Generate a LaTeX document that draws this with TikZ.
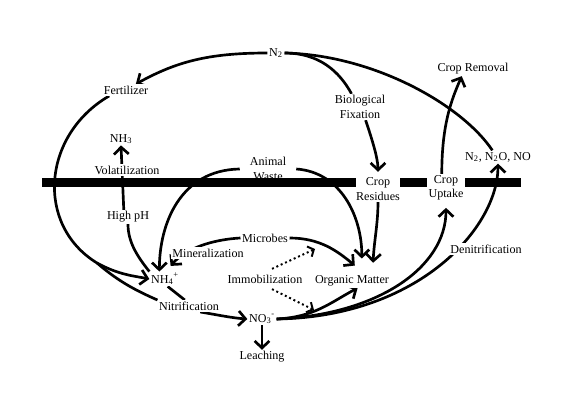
\documentclass[tikz,border=0pt]{standalone}
\usepackage{fontspec}
\setmainfont{Liberation Serif}
\usetikzlibrary{arrows.meta}
\pgfdeclarelayer{background}
\pgfsetlayers{background,main}

\begin{document}
\begin{tikzpicture}[x=0.025cm, y=-0.025cm,
  lbl/.style={fill=white, inner sep=1pt, align=center, font=\fontsize{8.6}{10.3}\selectfont},
  con/.style={line width=1.9pt},
  arr/.style={con, -{Straight Barb[length=5pt,width=10.5pt]}},
  immo/.style={line width=1.4pt, dotted, -{Straight Barb[length=3.5pt,width=8pt]}},
  soil/.style={line width=6.4pt}]
\useasboundingbox (0,0) rectangle (567,405);

% pools and processes
\node[lbl] (n2) at (276,53) {N\textsubscript{2}};
\node[lbl] (fert) at (126,90) {Fertilizer};
\node[lbl] (nh3) at (121,139) {NH\textsubscript{3}};
\node[lbl] (volat) at (127,170) {Volatilization};
\node[lbl, inner xsep=7pt] (animal) at (268,169) {Animal\\Waste};
\node[lbl] (biofix) at (360,107) {Biological\\Fixation};
\node[lbl] (removal) at (473,69) {Crop Removal};
\node[lbl] (gas) at (498,157) {N\textsubscript{2}, N\textsubscript{2}O, NO};
\node[lbl, inner xsep=0pt] (resid) at (378,189) {Crop\\Residues};
\node[lbl] (uptake) at (446,188) {Crop\\Uptake};
\node[lbl] (highph) at (128,217) {High pH};
\node[lbl] (microbes) at (265,238) {Microbes};
\node[lbl] (mineral) at (208,253) {Mineralization};
\node[lbl] (nh4) at (165,279) {NH\textsubscript{4}\textsuperscript{+}};
\node[lbl] (immob) at (265,279) {Immobilization};
\node[lbl] (om) at (352,281) {Organic Matter};
\node[lbl] (denit) at (486,249) {Denitrification};
\node[lbl] (nitr) at (189,306) {Nitrification};
\node[lbl] (no3) at (262,319) {NO\textsubscript{3}\textsuperscript{-}};
\node[lbl] (leach) at (262,357) {Leaching};

\coordinate (soilL) at (42,182.5);
\coordinate (soilR) at (521,182.5);
\coordinate (fork) at (97,263);
\coordinate (immup) at (315,249);
\coordinate (immdn) at (314,310);

% flows
\begin{pgfonlayer}{background}
\draw[arr] (n2.west) .. controls +(-60,0) and +(40,-22) .. ([xshift=7pt]fert.north);
\draw[con] ([xshift=5pt]fert.south west) .. controls +(-67,39) and +(-62,-38) .. (fork)
  .. controls +(23,20) and +(-18,-8) .. (nitr.north west);
\draw[arr] (fork) .. controls +(22,12) and +(-15,-3) .. (nh4.west);
\draw[con] (nh4.north west) .. controls +(-12,-15) and +(0,18) .. (highph.south);
\draw[arr] ([xshift=-3pt]highph.north) -- (nh3.south);
\draw[arr] (animal.west) .. controls +(-60,1) and +(0,-47) .. ([xshift=-4pt]nh4.north);
\draw[arr] (animal.east) .. controls +(44,3) and +(0,-43) .. ([xshift=7pt,yshift=11pt]om.north);
\draw[con] (n2.east) .. controls +(35,0) and +(-12,-22) .. ([xshift=-6pt]biofix.north);
\draw[arr, shorten >=3pt] ([xshift=4pt]biofix.south) .. controls +(6,18) and +(0,-18) .. (resid.north);
\draw[arr] (resid.south) .. controls +(0,22) and +(1,-22) .. ([xshift=15pt,yshift=8pt]om.north);
\draw[arr] (microbes.east) .. controls +(30,0) and +(-18,-15) .. ([xshift=2pt,yshift=6pt]om.north);
\draw[arr] (microbes.west) .. controls +(-35,2) and +(12,-14) .. ([xshift=4pt,yshift=4pt]nh4.north);
\draw[con] (nh4.-70) -- (nitr.125);
\draw[arr] ([xshift=8pt]nitr.south) .. controls +(18,3) and +(-15,-1) .. (no3.west);
\draw[arr] (no3.south) -- (leach.north);
\draw[arr] (no3.east) .. controls +(38,-2) and +(-28,15) .. ([xshift=4pt]om.south);
\draw[arr] (no3.east) .. controls +(100,-4) and +(0,60) .. ([yshift=-4pt]uptake.south);
\draw[arr] (no3.east) .. controls +(142,-2) and +(0,64) .. (gas.south);
\draw[con] (n2.east) .. controls +(90,2) and +(-30,-45) .. ([xshift=-4pt]gas.north);
\draw[arr] ([xshift=-3pt]uptake.north) .. controls +(0,-50) and +(-10,23) .. ([xshift=-8pt]removal.south);
\draw[immo] ([xshift=5pt,yshift=3pt]immob.north) -- (immup);
\draw[immo] ([xshift=5pt,yshift=-3pt]immob.south) -- (immdn);
\end{pgfonlayer}

% soil surface
\draw[soil] (soilL) -- (soilL -| resid.west);
\draw[soil] (soilL -| resid.east) -- (soilL -| uptake.west);
\draw[soil] (soilL -| uptake.east) -- (soilR);
\end{tikzpicture}
\end{document}
